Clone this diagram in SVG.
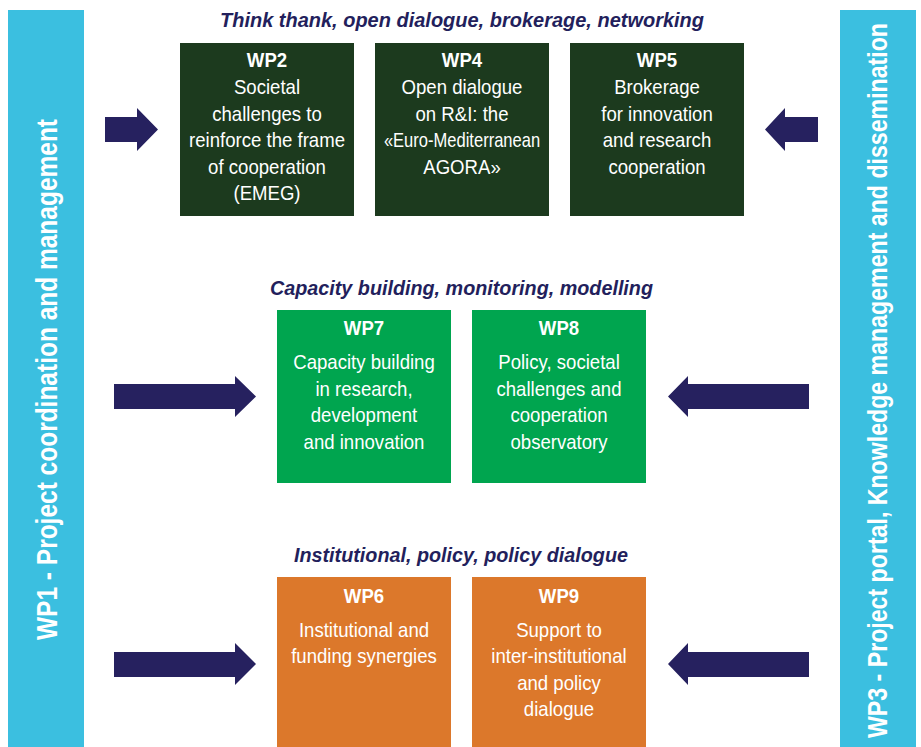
<svg xmlns="http://www.w3.org/2000/svg" width="921" height="747" viewBox="0 0 921 747">
<style>
.bar{fill:#3bbfe0}
.side{font-family:"Liberation Sans",Arial,sans-serif;font-weight:bold;fill:#ffffff}
.title{font-family:"Liberation Sans",Arial,sans-serif;font-weight:bold;font-style:italic;font-size:21px;fill:#231f5c;text-anchor:middle}
.dk{fill:#1c3a1e}
.gr{fill:#00a54f}
.or{fill:#dc782b}
.hd{font-family:"Liberation Sans",Arial,sans-serif;font-weight:bold;font-size:20px;fill:#ffffff;text-anchor:middle}
.bd{font-family:"Liberation Sans",Arial,sans-serif;font-size:20px;fill:#ffffff;text-anchor:middle}
.arrow{fill:#26215f}
</style>
<rect width="921" height="747" fill="#ffffff"/>

<g id="wp1">
<rect class="bar" x="8" y="10" width="76" height="737"/>
<text class="side" font-size="29" transform="translate(57 379.5) rotate(-90)" text-anchor="middle" textLength="521" lengthAdjust="spacingAndGlyphs">WP1 - Project coordination and management</text>
</g>
<g id="wp3">
<rect class="bar" x="840" y="10" width="76" height="737"/>
<text class="side" font-size="27" transform="translate(887 380.5) rotate(-90)" text-anchor="middle" textLength="715" lengthAdjust="spacingAndGlyphs">WP3 - Project portal, Knowledge management and dissemination</text>
</g>

<g id="titles">
<text class="title" x="462" y="27" textLength="484" lengthAdjust="spacingAndGlyphs">Think thank, open dialogue, brokerage, networking</text>
<text class="title" x="461.5" y="295" textLength="383" lengthAdjust="spacingAndGlyphs">Capacity building, monitoring, modelling</text>
<text class="title" x="461" y="562" textLength="334" lengthAdjust="spacingAndGlyphs">Institutional, policy, policy dialogue</text>
</g>

<g id="wp2">
<rect class="dk" x="180" y="43" width="174" height="173"/>
<g transform="translate(267 0) scale(0.93 1)">
<text class="hd" x="0" y="67">WP2</text>
<text class="bd" x="0" y="94">Societal</text>
<text class="bd" x="0" y="121">challenges to</text>
<text class="bd" x="0" y="147">reinforce the frame</text>
<text class="bd" x="0" y="174">of cooperation</text>
<text class="bd" x="0" y="200">(EMEG)</text>
</g>
</g>
<g id="wp4">
<rect class="dk" x="375" y="43" width="174" height="173"/>
<g transform="translate(462 0) scale(0.93 1)">
<text class="hd" x="0" y="67">WP4</text>
<text class="bd" x="0" y="94">Open dialogue</text>
<text class="bd" x="0" y="121">on R&amp;I: the</text>
<text class="bd" x="0" y="147" textLength="168" lengthAdjust="spacingAndGlyphs">«Euro-Mediterranean</text>
<text class="bd" x="0" y="174">AGORA»</text>
</g>
</g>
<g id="wp5">
<rect class="dk" x="570" y="43" width="174" height="173"/>
<g transform="translate(657 0) scale(0.93 1)">
<text class="hd" x="0" y="67">WP5</text>
<text class="bd" x="0" y="94">Brokerage</text>
<text class="bd" x="0" y="121">for innovation</text>
<text class="bd" x="0" y="147">and research</text>
<text class="bd" x="0" y="174">cooperation</text>
</g>
</g>

<g id="wp7">
<rect class="gr" x="277" y="310" width="174" height="173"/>
<g transform="translate(364 0) scale(0.93 1)">
<text class="hd" x="0" y="335">WP7</text>
<text class="bd" x="0" y="369">Capacity building</text>
<text class="bd" x="0" y="396">in research,</text>
<text class="bd" x="0" y="422">development</text>
<text class="bd" x="0" y="449">and innovation</text>
</g>
</g>
<g id="wp8">
<rect class="gr" x="472" y="310" width="174" height="173"/>
<g transform="translate(559 0) scale(0.93 1)">
<text class="hd" x="0" y="335">WP8</text>
<text class="bd" x="0" y="369">Policy, societal</text>
<text class="bd" x="0" y="396">challenges and</text>
<text class="bd" x="0" y="422">cooperation</text>
<text class="bd" x="0" y="449">observatory</text>
</g>
</g>

<g id="wp6">
<rect class="or" x="277" y="577" width="174" height="170"/>
<g transform="translate(364 0) scale(0.93 1)">
<text class="hd" x="0" y="603">WP6</text>
<text class="bd" x="0" y="637">Institutional and</text>
<text class="bd" x="0" y="663">funding synergies</text>
</g>
</g>
<g id="wp9">
<rect class="or" x="472" y="577" width="174" height="170"/>
<g transform="translate(559 0) scale(0.93 1)">
<text class="hd" x="0" y="603">WP9</text>
<text class="bd" x="0" y="637">Support to</text>
<text class="bd" x="0" y="663">inter-institutional</text>
<text class="bd" x="0" y="690">and policy</text>
<text class="bd" x="0" y="716">dialogue</text>
</g>
</g>

<g id="connectors">
<polygon class="arrow" points="105,117 137,117 137,108 158,129.5 137,151 137,142 105,142"/>
<polygon class="arrow" points="818,117 785,117 785,108 765,129.5 785,151 785,142 818,142"/>
<polygon class="arrow" points="114,384 235,384 235,376 256,396.5 235,417 235,409 114,409"/>
<polygon class="arrow" points="809,384 688,384 688,376 668,396.5 688,417 688,409 809,409"/>
<polygon class="arrow" points="114,652 235,652 235,643 256,664 235,685 235,677 114,677"/>
<polygon class="arrow" points="809,652 688,652 688,643 668,664 688,685 688,677 809,677"/>
</g>
</svg>
